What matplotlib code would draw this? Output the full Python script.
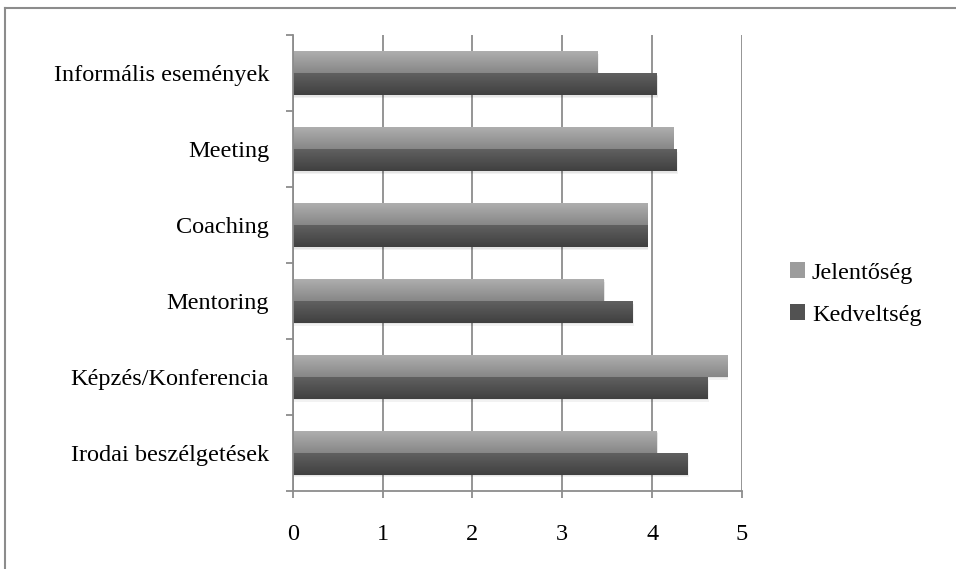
import numpy as np
import matplotlib
matplotlib.use('Agg')
import matplotlib.pyplot as plt
from matplotlib.lines import Line2D
from matplotlib.patches import Patch

categories = ['Irodai beszélgetések', 'Képzés/Konferencia', 'Mentoring',
              'Coaching', 'Meeting', 'Informális események']
jelentoseg = [4.05, 4.83, 3.46, 3.94, 4.23, 3.39]
kedveltseg = [4.39, 4.61, 3.78, 3.94, 4.27, 4.05]
series_names = ['Jelentőség', 'Kedveltség']
xticks = [0, 1, 2, 3, 4, 5]

light_top, light_bot = '#b0b0b0', '#878787'
dark_top, dark_bot = '#626262', '#404040'


def gradient_fill(ax, bars, top, bot):
    c1 = np.array(matplotlib.colors.to_rgb(top))
    c2 = np.array(matplotlib.colors.to_rgb(bot))
    t = np.linspace(0, 1, 64)[:, None]
    img = (c1 * (1 - t) + c2 * t)[:, None, :]
    for b in bars:
        x0, y0 = b.get_x(), b.get_y()
        w, h = b.get_width(), b.get_height()
        # soft shadow under the bar
        for k, a in [(0.035, 0.05), (0.02, 0.05)]:
            sh = plt.Rectangle((x0, y0 - k), w + k / 2, h, color='#000000',
                               alpha=a, lw=0, zorder=1.5)
            ax.add_patch(sh)
        im = ax.imshow(img, extent=[x0, x0 + w, y0, y0 + h], aspect='auto',
                       origin='upper', zorder=2, interpolation='bilinear')
        im.set_clip_path(b)


def main():
    plt.rcParams['font.family'] = ['Liberation Serif', 'DejaVu Serif']
    fig = plt.figure(figsize=(9.56, 5.69), dpi=100)
    ax = fig.add_axes([0.3062, 0.1376, 0.4700, 0.8004])

    y = np.arange(len(categories)) + 0.5
    h = 0.29
    bj = ax.barh(y + h / 2, jelentoseg, height=h, color=light_top, lw=0, zorder=2)
    bk = ax.barh(y - h / 2, kedveltseg, height=h, color=dark_top, lw=0, zorder=2)
    for b in list(bj) + list(bk):
        b.set_alpha(0)
    gradient_fill(ax, bj, light_top, light_bot)
    gradient_fill(ax, bk, dark_top, dark_bot)

    ax.set_xlim(0, 5)
    ax.set_ylim(0, len(categories))
    ax.set_xticks(xticks)
    ax.set_xticklabels([str(v) for v in xticks])
    ax.set_yticks(y)
    ax.set_yticklabels(categories)
    ax.set_yticks(np.arange(len(categories) + 1), minor=True)

    ax.grid(axis='x', color='#8c8c8c', lw=1.3, zorder=0)
    ax.set_axisbelow(True)
    for s in ['top', 'right']:
        ax.spines[s].set_visible(False)
    for s in ['left', 'bottom']:
        ax.spines[s].set_color('#8c8c8c')
        ax.spines[s].set_linewidth(1.3)

    ax.tick_params(axis='y', which='major', length=0, pad=17, labelsize=17.5)
    ax.tick_params(axis='y', which='minor', length=5, width=1.3, color='#8c8c8c')
    ax.tick_params(axis='x', length=5, width=1.3, color='#8c8c8c', pad=19, labelsize=17.5)

    handles = [Patch(facecolor='#9c9c9c', edgecolor='none'),
               Patch(facecolor='#525252', edgecolor='none')]
    fig.legend(handles, series_names, loc='center left', bbox_to_anchor=(0.803, 0.4835),
               frameon=False, fontsize=17.5, handlelength=0.62, handleheight=0.62,
               handletextpad=0.3, labelspacing=0.85)

    # outer frame (only top and left visible)
    fig.add_artist(Line2D([5 / 956, 1], [1 - 8 / 569, 1 - 8 / 569], color='#8c8c8c',
                          lw=1.5, transform=fig.transFigure))
    fig.add_artist(Line2D([5 / 956, 5 / 956], [0, 1 - 8 / 569], color='#8c8c8c',
                          lw=1.5, transform=fig.transFigure))

    fig.savefig('out.png', dpi=100)


if __name__ == '__main__':
    main()
